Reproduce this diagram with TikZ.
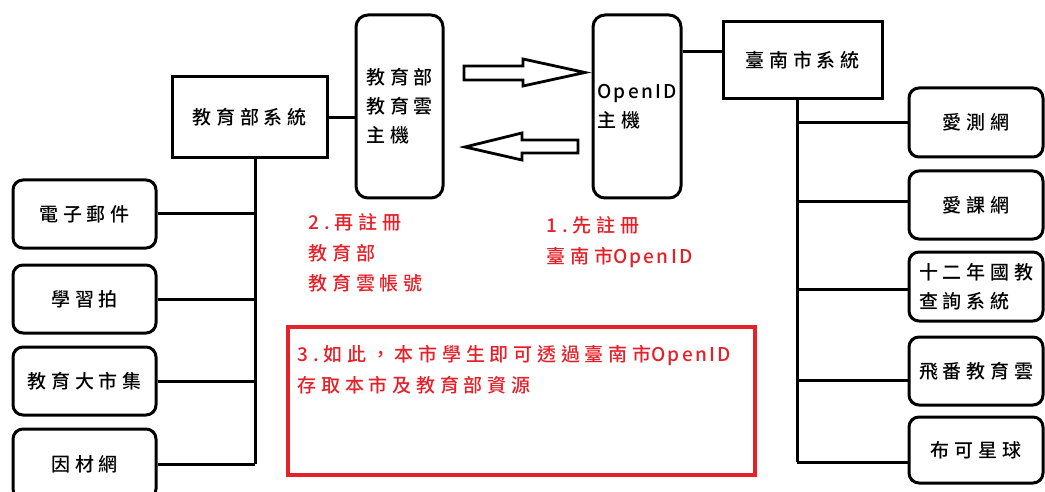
\documentclass[tikz,border=0pt]{standalone}
\usepackage{fontspec}
\setmainfont{Noto Sans CJK TC}[UprightFont=* Medium, LetterSpace=25]
\newfontfamily\latinfont{Noto Sans CJK TC}[UprightFont=* Medium, LetterSpace=12]
\usepackage{tikz}
\usetikzlibrary{calc}
\definecolor{notered}{RGB}{228,32,40}

\begin{document}
\begin{tikzpicture}[x=1pt, y=-1pt,
    wire/.style={line width=3pt},
    txt/.style={font=\fontsize{19}{29}\selectfont, align=left},
    sysbox/.style={txt, draw, line width=3pt},
    leafbox/.style={sysbox, rounded corners=10pt, minimum height=68pt},
    hostbox/.style={sysbox, rounded corners=12pt, minimum width=87pt, minimum height=183pt},
    blockarrow/.style={line width=2.8pt, fill=white},
    redtext/.style={txt, text=notered, font=\fontsize{19}{30.5}\selectfont},
    notebox/.style={draw=notered, line width=3.2pt, minimum width=467pt, minimum height=148pt}]
    \clip (0,0) rectangle (1045,492);
    % Sistemas
    \node[sysbox, minimum width=155pt, minimum height=81pt] (moesys) at (249.5,117.5) {教育部系統};
    \node[hostbox] (moehost) at (399.5,106.5) {教育部\\教育雲\\主機};
    \node[hostbox, minimum width=88pt] (oidhost) at (637,106.5) {{\latinfont OpenID}\\主機};
    \node[sysbox, minimum width=159pt, minimum height=77pt] (tnsys) at (802.5,60.5) {臺南市系統};
    % Aplicativos
    \node[leafbox, minimum width=143pt] (email) at (84.5,214) {電子郵件};
    \node[leafbox, minimum width=143pt] (learn) at (84.5,299) {學習拍};
    \node[leafbox, minimum width=143pt] (market) at (84.5,381) {教育大市集};
    \node[leafbox, minimum width=143pt, minimum height=70pt] (adapt) at (84.5,464) {因材網};
    \node[leafbox, minimum width=134pt, minimum height=69pt] (test) at (976,122.5) {愛測網};
    \node[leafbox, minimum width=134pt] (course) at (976,205) {愛課網};
    \node[leafbox, minimum width=134pt, minimum height=69pt] (twelve) at (976,286.5) {十二年國教\\查詢系統};
    \node[leafbox, minimum width=134pt] (cloud) at (976,371) {飛番教育雲};
    \node[leafbox, minimum width=134pt, minimum height=66pt] (planet) at (976,450) {布可星球};
    % Ligações
    \draw[wire] (moesys.east) -- (moesys.east -| moehost.west);
    \draw[wire] (tnsys.west) ++(0,-8.5) coordinate (tnin) -- (tnin -| oidhost.east);
    \coordinate (lbus) at (255,158);
    \coordinate (rbus) at (797,99);
    \foreach \leaf in {email,learn,market,adapt}
        \draw[wire] (\leaf.east) -- (\leaf.east -| lbus);
    \draw[wire] (lbus) -- (lbus |- adapt.east);
    \foreach \leaf/\dy in {test/0,course/-3,twelve/3,cloud/9,planet/12} {
        \coordinate (\leaf-in) at ($(\leaf.west)+(0,\dy)$);
        \draw[wire] (\leaf-in) -- (\leaf-in -| rbus);
    }
    \draw[wire] (rbus) -- (rbus |- planet-in);
    % Setas
    \draw[blockarrow] (464,66) -- (523,66) -- (523,59) -- (585,72.5) -- (523,86) -- (523,80) -- (464,80) -- cycle;
    \draw[blockarrow] (578,140) -- (522,140) -- (522,133) -- (465,147) -- (522,160) -- (522,153) -- (578,153) -- cycle;
    % Notas
    \node[redtext, anchor=north west] (step2) at (305,210) {2.再註冊\\教育部\\教育雲帳號};
    \node[redtext, anchor=north west] (step1) at (543,213) {1.先註冊\\臺南市{\latinfont OpenID}};
    \node[notebox] (note) at (521.5,401) {};
    \node[redtext, anchor=north west] (notetext) at (294,342) {3.如此，本市學生即可透過臺南市{\latinfont OpenID}\\存取本市及教育部資源};
\end{tikzpicture}
\end{document}
